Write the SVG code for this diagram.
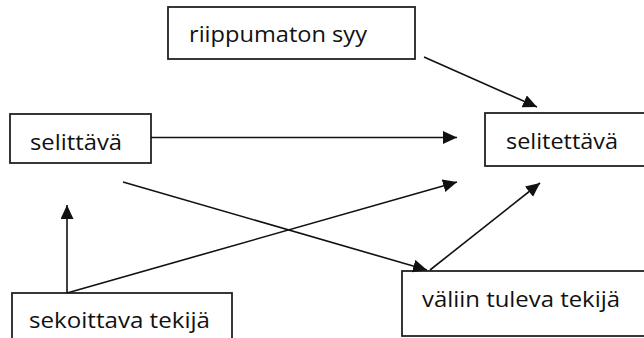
<svg xmlns="http://www.w3.org/2000/svg" width="644" height="338" viewBox="0 0 644 338">
  <defs>
    <marker id="arrow" markerUnits="userSpaceOnUse" markerWidth="14" markerHeight="14" refX="14" refY="6.5" orient="auto">
      <path d="M0,0 L14,6.5 L0,13 z" fill="#111"/>
    </marker>
    <style>
      .box { fill: #fff; stroke: #222; stroke-width: 1.8; }
      .lbl { font-family: "Open Sans", "Liberation Sans", sans-serif; font-size: 22px; fill: #111; }
      .conn line { stroke: #111; stroke-width: 1.6; marker-end: url(#arrow); }
    </style>
  </defs>
  <rect width="644" height="338" fill="#fff"/>

  <g id="riippumaton-syy">
    <rect class="box" x="168" y="7" width="247" height="52"/>
    <text class="lbl" x="189" y="42" textLength="178" lengthAdjust="spacingAndGlyphs">riippumaton syy</text>
  </g>

  <g id="selittava">
    <rect class="box" x="10" y="114" width="141" height="49"/>
    <text class="lbl" x="30" y="150" textLength="92" lengthAdjust="spacingAndGlyphs">selittävä</text>
  </g>

  <g id="selitettava">
    <rect class="box" x="485" y="113" width="170" height="53"/>
    <text class="lbl" x="506" y="149" textLength="112" lengthAdjust="spacingAndGlyphs">selitettävä</text>
  </g>

  <g id="sekoittava-tekija">
    <rect class="box" x="12" y="293" width="220" height="60"/>
    <text class="lbl" x="29" y="328" textLength="181" lengthAdjust="spacingAndGlyphs">sekoittava tekijä</text>
  </g>

  <g id="valiin-tuleva-tekija">
    <rect class="box" x="402" y="271" width="255" height="65"/>
    <text class="lbl" x="422" y="307" textLength="198" lengthAdjust="spacingAndGlyphs">väliin tuleva tekijä</text>
  </g>

  <g id="connectors" class="conn">
    <line x1="424" y1="57" x2="537" y2="107"/>
    <line x1="151" y1="137.5" x2="457" y2="137.5"/>
    <line x1="123" y1="182" x2="427" y2="270"/>
    <line x1="67" y1="293" x2="67" y2="205"/>
    <line x1="67" y1="293" x2="457" y2="182"/>
    <line x1="430" y1="270" x2="540" y2="183"/>
  </g>
</svg>
